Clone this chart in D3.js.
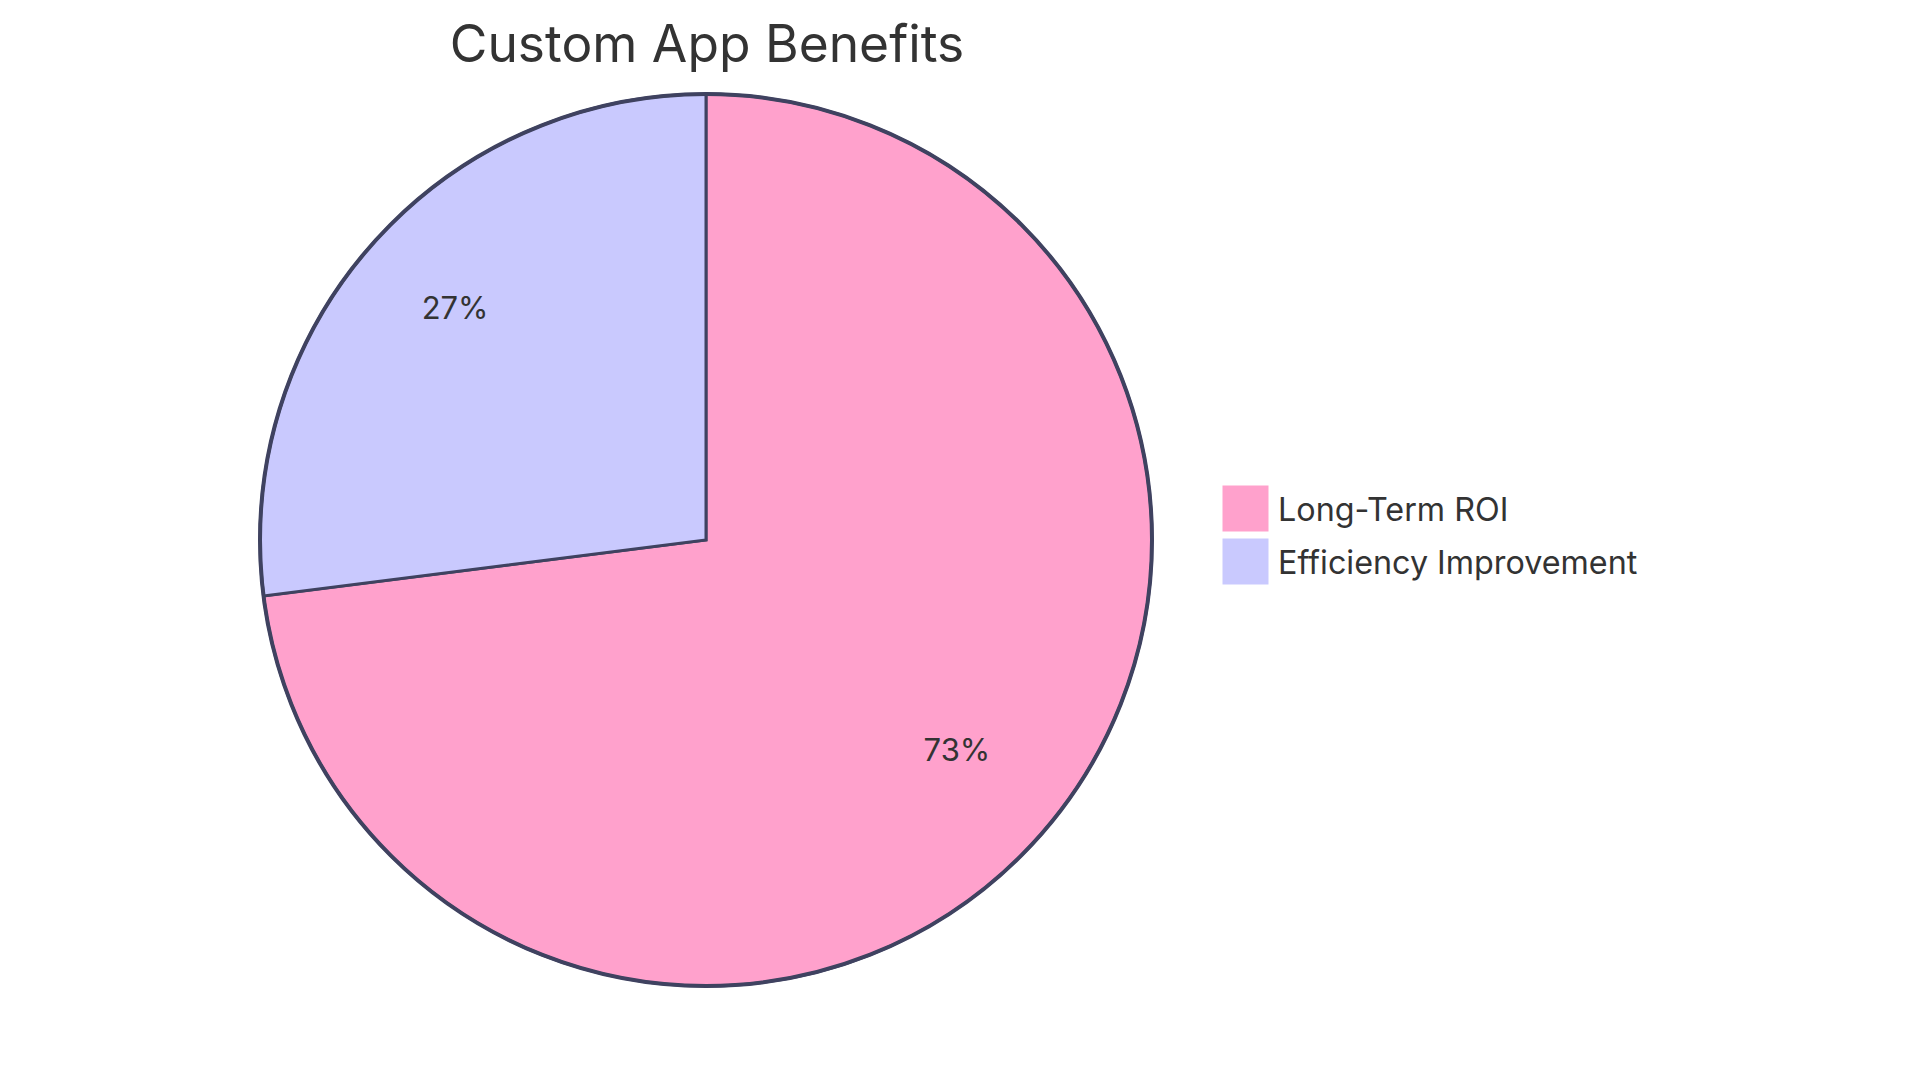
<!DOCTYPE html>
<html>
<head>
<meta charset="utf-8">
<script src="https://cdn.jsdelivr.net/npm/d3@7"></script>
<style>
  body { margin: 0; background: #fff; }
  text { font-family: Inter, "Noto Sans", sans-serif; fill: #333; }
</style>
</head>
<body>
<div class="pie-container"></div>
<script>
// Data
const categories = ['Long-Term ROI', 'Efficiency Improvement'];
const values = [73, 27];
const colors = ['#ffa1cc', '#c9c9fe'];
const chartTitle = 'Custom App Benefits';

const pieData = categories.map((c, i) => ({label: c, value: values[i]}));

// Layout
const width = 1920, height = 1083;
const cx = 706, cy = 540, radius = 446;

const svg = d3.select('.pie-container')
    .append('svg')
    .attr('width', width)
    .attr('height', height);

const color = d3.scaleOrdinal(categories, colors);

const pie = d3.pie().value(d => d.value).sort((a, b) => d3.descending(a.value, b.value));
const arcs = pie(pieData);
const total = d3.sum(values);

const arc = d3.arc().innerRadius(0).outerRadius(radius);
const labelArc = d3.arc().innerRadius(radius * 0.75).outerRadius(radius * 0.75);

const g = svg.append('g').attr('transform', `translate(${cx}, ${cy})`);

// Slices
g.selectAll('.slice')
    .data(arcs)
    .enter()
    .append('path')
    .attr('class', 'slice')
    .attr('d', arc)
    .style('fill', d => color(d.data.label))
    .style('stroke', '#3f4260')
    .style('stroke-width', 3)
    .style('stroke-linejoin', 'miter');

// Outer ring
g.append('circle')
    .attr('r', radius)
    .style('fill', 'none')
    .style('stroke', '#3f4260')
    .style('stroke-width', 4);

// Percent labels
g.selectAll('.pct')
    .data(arcs)
    .enter()
    .append('text')
    .attr('class', 'pct')
    .attr('transform', d => `translate(${labelArc.centroid(d)})`)
    .attr('text-anchor', 'middle')
    .style('font-size', '31px')
    .text(d => d3.format('.0f')(d.data.value / total * 100) + '%');

// Title
svg.append('text')
    .attr('x', 707)
    .attr('y', 62)
    .attr('text-anchor', 'middle')
    .style('font-size', '51.5px')
    .text(chartTitle);

// Legend
const legend = svg.selectAll('.legend')
    .data(categories)
    .enter()
    .append('g')
    .attr('class', 'legend')
    .attr('transform', (d, i) => `translate(1223, ${486 + i * 53})`);

legend.append('rect')
    .attr('width', 45)
    .attr('height', 45)
    .style('fill', d => color(d))
    .style('stroke', d => color(d));

legend.append('text')
    .attr('x', 55)
    .attr('y', 35)
    .style('font-size', '32.3px')
    .text(d => d);
</script>
</body>
</html>
